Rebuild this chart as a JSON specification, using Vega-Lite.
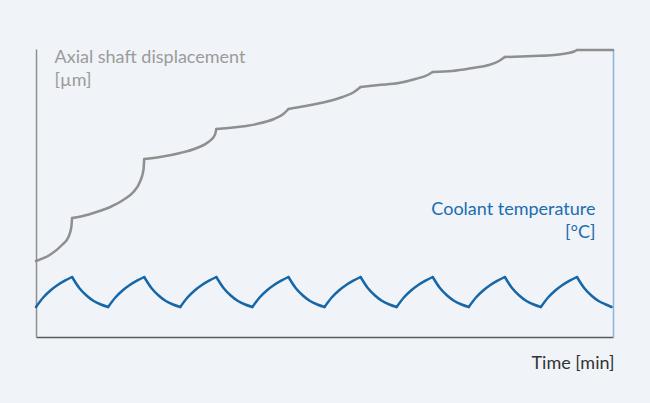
{
  "$schema": "https://vega.github.io/schema/vega-lite/v6.json",
  "autosize": "none",
  "width": 577,
  "height": 288,
  "padding": {"left": 36, "top": 49, "right": 37, "bottom": 66},
  "background": "#f0f3f7",
  "config": {"view": {"stroke": null}, "font": "Lato"},
  "datasets": {
    "disp": [
      {"s": 1, "t": 0, "d": 76}, {"s": 1, "t": 1.9, "d": 82}, {"s": 1, "t": 3.6, "d": 92}, {"s": 1, "t": 4.5, "d": 100}, {"s": 1, "t": 4.9, "d": 110}, {"s": 1, "t": 5, "d": 119},
      {"s": 2, "t": 5, "d": 119}, {"s": 2, "t": 6.5, "d": 121}, {"s": 2, "t": 8.4, "d": 125}, {"s": 2, "t": 10.3, "d": 130}, {"s": 2, "t": 12.1, "d": 137}, {"s": 2, "t": 13.5, "d": 145}, {"s": 2, "t": 14.4, "d": 155}, {"s": 2, "t": 14.9, "d": 167}, {"s": 2, "t": 15, "d": 178},
      {"s": 3, "t": 15, "d": 178}, {"s": 3, "t": 17.2, "d": 180}, {"s": 3, "t": 20, "d": 184}, {"s": 3, "t": 22.3, "d": 189}, {"s": 3, "t": 23.9, "d": 195}, {"s": 3, "t": 24.8, "d": 202}, {"s": 3, "t": 25, "d": 208},
      {"s": 4, "t": 25, "d": 208}, {"s": 4, "t": 27.9, "d": 210}, {"s": 4, "t": 30.6, "d": 213}, {"s": 4, "t": 33, "d": 218}, {"s": 4, "t": 34.3, "d": 223}, {"s": 4, "t": 35, "d": 228},
      {"s": 5, "t": 35, "d": 228}, {"s": 5, "t": 37.4, "d": 231}, {"s": 5, "t": 40.1, "d": 235}, {"s": 5, "t": 42.5, "d": 240}, {"s": 5, "t": 44.1, "d": 245}, {"s": 5, "t": 45, "d": 250},
      {"s": 6, "t": 45, "d": 250}, {"s": 6, "t": 47.5, "d": 252}, {"s": 6, "t": 50.3, "d": 254}, {"s": 6, "t": 52.6, "d": 258}, {"s": 6, "t": 54.3, "d": 262}, {"s": 6, "t": 55, "d": 265},
      {"s": 7, "t": 55, "d": 265}, {"s": 7, "t": 57.7, "d": 266}, {"s": 7, "t": 60.5, "d": 269}, {"s": 7, "t": 62.8, "d": 272}, {"s": 7, "t": 64.2, "d": 276}, {"s": 7, "t": 65, "d": 280},
      {"s": 8, "t": 65, "d": 280}, {"s": 8, "t": 69, "d": 281}, {"s": 8, "t": 71.8, "d": 282}, {"s": 8, "t": 73.8, "d": 284}, {"s": 8, "t": 74.6, "d": 285.5}, {"s": 8, "t": 75, "d": 287},
      {"s": 9, "t": 75, "d": 287}, {"s": 9, "t": 80, "d": 287}
    ],
    "temp": [
      {"s": "r0", "t": 0, "c": 30}, {"s": "r0", "t": 1, "c": 39.5}, {"s": "r0", "t": 2, "c": 46.5}, {"s": "r0", "t": 3, "c": 52}, {"s": "r0", "t": 4, "c": 56.3}, {"s": "r0", "t": 5, "c": 60},
      {"s": "f0", "t": 5, "c": 60}, {"s": "f0", "t": 6, "c": 49}, {"s": "f0", "t": 7, "c": 41.5}, {"s": "f0", "t": 8, "c": 36}, {"s": "f0", "t": 9, "c": 32.5}, {"s": "f0", "t": 10, "c": 30},
      {"s": "r1", "t": 10, "c": 30}, {"s": "r1", "t": 11, "c": 39.5}, {"s": "r1", "t": 12, "c": 46.5}, {"s": "r1", "t": 13, "c": 52}, {"s": "r1", "t": 14, "c": 56.3}, {"s": "r1", "t": 15, "c": 60},
      {"s": "f1", "t": 15, "c": 60}, {"s": "f1", "t": 16, "c": 49}, {"s": "f1", "t": 17, "c": 41.5}, {"s": "f1", "t": 18, "c": 36}, {"s": "f1", "t": 19, "c": 32.5}, {"s": "f1", "t": 20, "c": 30},
      {"s": "r2", "t": 20, "c": 30}, {"s": "r2", "t": 21, "c": 39.5}, {"s": "r2", "t": 22, "c": 46.5}, {"s": "r2", "t": 23, "c": 52}, {"s": "r2", "t": 24, "c": 56.3}, {"s": "r2", "t": 25, "c": 60},
      {"s": "f2", "t": 25, "c": 60}, {"s": "f2", "t": 26, "c": 49}, {"s": "f2", "t": 27, "c": 41.5}, {"s": "f2", "t": 28, "c": 36}, {"s": "f2", "t": 29, "c": 32.5}, {"s": "f2", "t": 30, "c": 30},
      {"s": "r3", "t": 30, "c": 30}, {"s": "r3", "t": 31, "c": 39.5}, {"s": "r3", "t": 32, "c": 46.5}, {"s": "r3", "t": 33, "c": 52}, {"s": "r3", "t": 34, "c": 56.3}, {"s": "r3", "t": 35, "c": 60},
      {"s": "f3", "t": 35, "c": 60}, {"s": "f3", "t": 36, "c": 49}, {"s": "f3", "t": 37, "c": 41.5}, {"s": "f3", "t": 38, "c": 36}, {"s": "f3", "t": 39, "c": 32.5}, {"s": "f3", "t": 40, "c": 30},
      {"s": "r4", "t": 40, "c": 30}, {"s": "r4", "t": 41, "c": 39.5}, {"s": "r4", "t": 42, "c": 46.5}, {"s": "r4", "t": 43, "c": 52}, {"s": "r4", "t": 44, "c": 56.3}, {"s": "r4", "t": 45, "c": 60},
      {"s": "f4", "t": 45, "c": 60}, {"s": "f4", "t": 46, "c": 49}, {"s": "f4", "t": 47, "c": 41.5}, {"s": "f4", "t": 48, "c": 36}, {"s": "f4", "t": 49, "c": 32.5}, {"s": "f4", "t": 50, "c": 30},
      {"s": "r5", "t": 50, "c": 30}, {"s": "r5", "t": 51, "c": 39.5}, {"s": "r5", "t": 52, "c": 46.5}, {"s": "r5", "t": 53, "c": 52}, {"s": "r5", "t": 54, "c": 56.3}, {"s": "r5", "t": 55, "c": 60},
      {"s": "f5", "t": 55, "c": 60}, {"s": "f5", "t": 56, "c": 49}, {"s": "f5", "t": 57, "c": 41.5}, {"s": "f5", "t": 58, "c": 36}, {"s": "f5", "t": 59, "c": 32.5}, {"s": "f5", "t": 60, "c": 30},
      {"s": "r6", "t": 60, "c": 30}, {"s": "r6", "t": 61, "c": 39.5}, {"s": "r6", "t": 62, "c": 46.5}, {"s": "r6", "t": 63, "c": 52}, {"s": "r6", "t": 64, "c": 56.3}, {"s": "r6", "t": 65, "c": 60},
      {"s": "f6", "t": 65, "c": 60}, {"s": "f6", "t": 66, "c": 49}, {"s": "f6", "t": 67, "c": 41.5}, {"s": "f6", "t": 68, "c": 36}, {"s": "f6", "t": 69, "c": 32.5}, {"s": "f6", "t": 70, "c": 30},
      {"s": "r7", "t": 70, "c": 30}, {"s": "r7", "t": 71, "c": 39.5}, {"s": "r7", "t": 72, "c": 46.5}, {"s": "r7", "t": 73, "c": 52}, {"s": "r7", "t": 74, "c": 56.3}, {"s": "r7", "t": 75, "c": 60},
      {"s": "f7", "t": 75, "c": 60}, {"s": "f7", "t": 76, "c": 49}, {"s": "f7", "t": 77, "c": 41.5}, {"s": "f7", "t": 78, "c": 36}, {"s": "f7", "t": 79, "c": 32.5}, {"s": "f7", "t": 79.8, "c": 30}
    ]
  },
  "layer": [
    {
      "data": {"name": "disp"},
      "mark": {"type": "line", "color": "#8f8f8f", "strokeWidth": 2.5, "interpolate": "monotone", "strokeCap": "round", "clip": false},
      "encoding": {
        "detail": {"field": "s", "type": "nominal"},
        "x": {
          "field": "t", "type": "quantitative",
          "scale": {"domain": [0, 80], "nice": false, "zero": false},
          "axis": {
            "title": "Time [min]", "labels": false, "ticks": false, "grid": false,
            "domainColor": "#5a5a5a", "domainWidth": 1.5,
            "titleAlign": "right", "titleBaseline": "alphabetic", "titleX": 578, "titleY": 31,
            "titleFont": "Lato", "titleFontSize": 18, "titleFontWeight": "normal", "titleColor": "#333333"
          }
        },
        "y": {
          "field": "d", "type": "quantitative",
          "scale": {"domain": [0, 288], "nice": false},
          "axis": {
            "title": ["Axial shaft displacement", "[µm]"], "labels": false, "ticks": false, "grid": false,
            "domainColor": "#8f8f8f", "domainWidth": 1.5,
            "titleAngle": 0, "titleAlign": "left", "titleBaseline": "alphabetic", "titleX": 18, "titleY": 13,
            "titleLineHeight": 23,
            "titleFont": "Lato", "titleFontSize": 18, "titleFontWeight": "normal", "titleColor": "#9b9b9b"
          }
        }
      }
    },
    {
      "data": {"name": "temp"},
      "mark": {"type": "line", "color": "#1767a8", "strokeWidth": 2.5, "interpolate": "monotone", "strokeCap": "round", "clip": false},
      "encoding": {
        "detail": {"field": "s", "type": "nominal"},
        "x": {"field": "t", "type": "quantitative"},
        "y": {
          "field": "c", "type": "quantitative",
          "scale": {"domain": [0, 288], "nice": false},
          "axis": {
            "orient": "right",
            "title": ["Coolant temperature", "[°C]"], "labels": false, "ticks": false, "grid": false,
            "domainColor": "#8db5dc", "domainWidth": 1.5,
            "titleAngle": 0, "titleAlign": "right", "titleBaseline": "alphabetic", "titleX": -18, "titleY": 165,
            "titleLineHeight": 23,
            "titleFont": "Lato", "titleFontSize": 18, "titleFontWeight": "normal", "titleColor": "#1b6db0"
          }
        }
      }
    }
  ],
  "resolve": {"scale": {"y": "independent"}}
}
